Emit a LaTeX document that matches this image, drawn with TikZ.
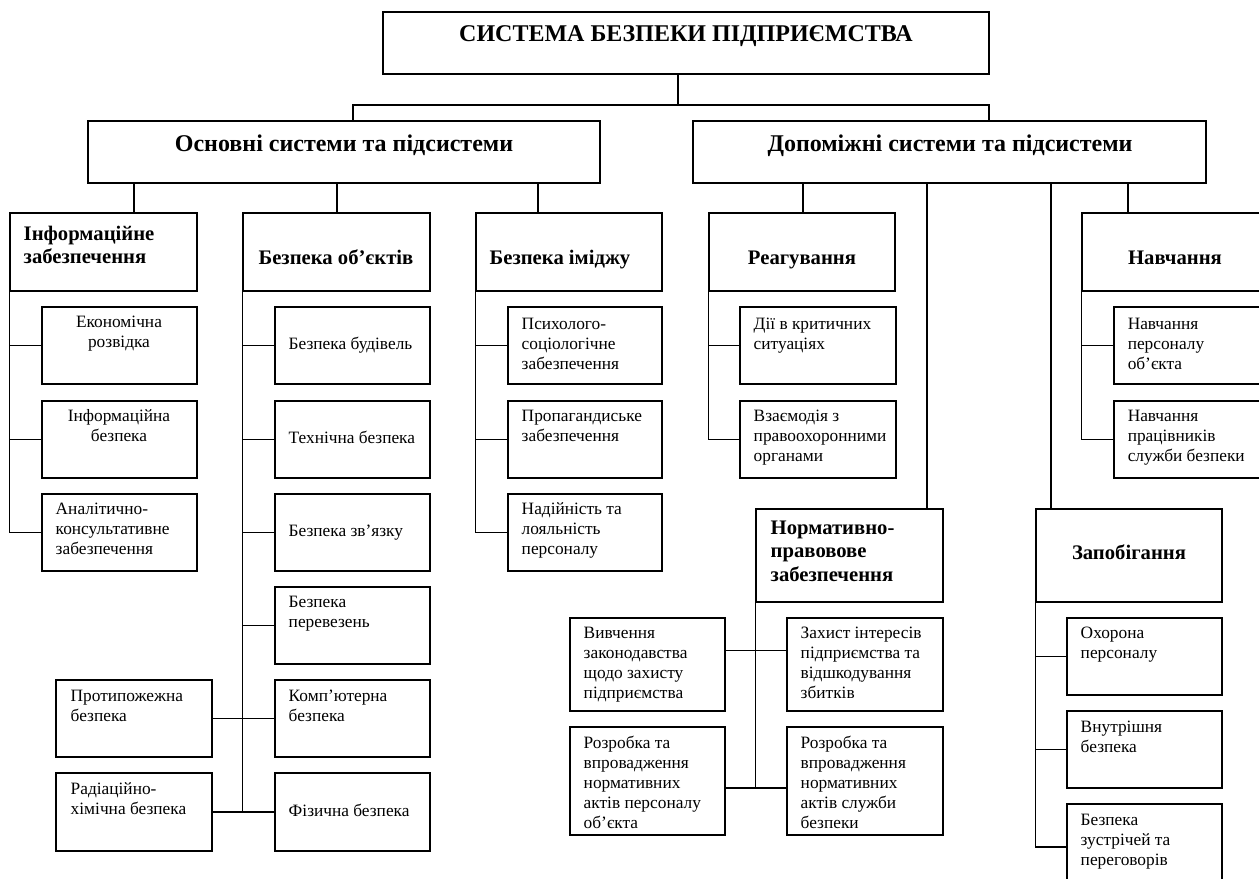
\documentclass[tikz,border=0pt]{standalone}
\usepackage{fontspec}
\setmainfont{Liberation Serif}
\usetikzlibrary{fit,calc}

\tikzset{
  box/.style={draw, inner sep=0pt},
  txt/.style={inner sep=0pt, anchor=north west, align=left, execute at begin node=\strut, font=\fontsize{13}{15}\selectfont},
  ctxt/.style={txt, anchor=north, align=center},
  head/.style={inner sep=0pt, anchor=base, align=left, font=\bfseries\fontsize{15.5}{17.25}\selectfont},
  bighead/.style={inner sep=0pt, anchor=base, font=\bfseries\fontsize{18}{21}\selectfont},
}

\begin{document}
\begin{tikzpicture}[x=0.75pt,y=0.75pt,yscale=-1,line width=1.1pt]
\useasboundingbox (0,0) rectangle (1259,878);
\clip (0,0) rectangle (1259,878);

%Shape: Rectangle
\node[box, fit={(383,12) (989,74)}] (top) {};
% Text Node
\node[bighead] (top-t) at (686,41) {СИСТЕМА БЕЗПЕКИ ПІДПРИЄМСТВА};

%Shape: Rectangle
\node[box, fit={(88,121) (600,183)}] (osn) {};
\node[box, fit={(693,121) (1206,183)}] (dop) {};
% Text Node
\node[bighead] (osn-t) at (344,151) {Основні системи та підсистеми};
\node[bighead] (dop-t) at (950,151) {Допоміжні системи та підсистеми};

%Shape: Rectangle
\node[box, fit={(10,213) (197,291)}] (info) {};
\node[box, fit={(243,213) (430,291)}] (obj) {};
\node[box, fit={(476,213) (662,291)}] (imi) {};
\node[box, fit={(709,213) (895,291)}] (reag) {};
\node[box, fit={(1082,213) (1265,291)}] (nav) {};
% Text Node
\node[head, anchor=north west, execute at begin node=\strut] (info-t) at (23,225) {Інформаційне\\забезпечення};
\node[head] (obj-t) at (336,264) {Безпека об’єктів};
\node[head] (imi-t) at (560,264) {Безпека іміджу};
\node[head] (reag-t) at (802,264) {Реагування};
\node[head] (nav-t) at (1175,264) {Навчання};

%Shape: Rectangle
\node[box, fit={(42,307) (197,384)}] (econ) {};
\node[box, fit={(42,401) (197,478)}] (ibez) {};
\node[box, fit={(42,494) (197,571)}] (anal) {};
% Text Node
\node[ctxt] (econ-t) at (119,315) {Економічна\\розвідка};
\node[ctxt] (ibez-t) at (119,409) {Інформаційна\\безпека};
\node[txt] (anal-t) at (55,502) {Аналітично-\\консультативне\\забезпечення};

%Shape: Rectangle
\node[box, fit={(275,307) (430,384)}] (bud) {};
\node[box, fit={(275,401) (430,478)}] (tech) {};
\node[box, fit={(275,494) (430,571)}] (zv) {};
\node[box, fit={(275,587) (430,664)}] (perev) {};
\node[box, fit={(275,680) (430,757)}] (comp) {};
\node[box, fit={(275,773) (430,851)}] (fiz) {};
\node[box, fit={(56,680) (212,757)}] (fire) {};
\node[box, fit={(56,773) (212,851)}] (rad) {};
% Text Node
\node[txt] (bud-t) at (288,335) {Безпека будівель};
\node[txt] (tech-t) at (288,429) {Технічна безпека};
\node[txt] (zv-t) at (288,522) {Безпека зв’язку};
\node[txt] (perev-t) at (288,595) {Безпека\\перевезень};
\node[txt] (comp-t) at (288,689) {Комп’ютерна\\безпека};
\node[txt] (fiz-t) at (288,802) {Фізична безпека};
\node[txt] (fire-t) at (70,689) {Протипожежна\\безпека};
\node[txt] (rad-t) at (70,782) {Радіаційно-\\хімічна безпека};

%Shape: Rectangle
\node[box, fit={(508,307) (662,384)}] (psy) {};
\node[box, fit={(508,401) (662,478)}] (prop) {};
\node[box, fit={(508,494) (662,571)}] (nad) {};
% Text Node
\node[txt] (psy-t) at (521,317) {Психолого-\\соціологічне\\забезпечення};
\node[txt] (prop-t) at (521,409) {Пропагандиське\\забезпечення};
\node[txt] (nad-t) at (521,502) {Надійність та\\лояльність\\персоналу};

%Shape: Rectangle
\node[box, fit={(740,307) (896,384)}] (dii) {};
\node[box, fit={(740,401) (896,478)}] (vza) {};
\node[box, fit={(1114,307) (1265,384)}] (navp) {};
\node[box, fit={(1114,401) (1265,478)}] (navs) {};
% Text Node
\node[txt] (dii-t) at (753,317) {Дії в критичних\\ситуаціях};
\node[txt] (vza-t) at (753,409) {Взаємодія з\\правоохоронними\\органами};
\node[txt] (navp-t) at (1127,317) {Навчання\\персоналу\\об’єкта};
\node[txt] (navs-t) at (1127,409) {Навчання\\працівників\\служби безпеки};

%Shape: Rectangle
\node[box, fit={(756,509) (943,602)}] (norm) {};
\node[box, fit={(570,618) (725,711)}] (vyv) {};
\node[box, fit={(787,618) (943,711)}] (zah) {};
\node[box, fit={(570,727) (725,835)}] (roz1) {};
\node[box, fit={(787,727) (943,835)}] (roz2) {};
% Text Node
\node[head, anchor=north west, execute at begin node=\strut, font=\bfseries\fontsize{15.5}{17.6}\selectfont] (norm-t) at (770,520) {Нормативно-\\правовове\\забезпечення};
\node[txt] (vyv-t) at (583,626) {Вивчення\\законодавства\\щодо захисту\\підприємства};
\node[txt] (zah-t) at (800,626) {Захист інтересів\\підприємства та\\відшкодування\\збитків};
\node[txt] (roz1-t) at (583,735) {Розробка та\\впровадження\\нормативних\\актів персоналу\\об’єкта};
\node[txt] (roz2-t) at (800,735) {Розробка та\\впровадження\\нормативних\\актів служби\\безпеки};

%Shape: Rectangle
\node[box, fit={(1036,509) (1222,602)}] (zap) {};
\node[box, fit={(1067,618) (1222,695)}] (ohor) {};
\node[box, fit={(1067,711) (1222,788)}] (vnut) {};
\node[box, fit={(1067,804) (1222,890)}] (zustr) {};
% Text Node
\node[head] (zap-t) at (1129,559) {Запобігання};
\node[txt] (ohor-t) at (1080,626) {Охорона\\персоналу};
\node[txt] (vnut-t) at (1080,720) {Внутрішня\\безпека};
\node[txt] (zustr-t) at (1080,813) {Безпека\\зустрічей та\\переговорів};

%Straight Lines
\coordinate (bus) at (678,105);
\coordinate (busl) at (353,105);
\coordinate (busr) at (989,105);
\draw (top.south -| bus) -- (bus);
\draw (osn.north -| busl) -- (busl) -- (busr) -- (dop.north -| busr);
\foreach \x/\n [count=\i] in {134/info,337/obj,538/imi}{
  \coordinate (oj\i) at (\x,0);
  \draw (osn.south -| oj\i) -- (\n.north -| oj\i);
}
\foreach \x/\n [count=\i] in {803/reag,927/norm,1051/zap,1128/nav}{
  \coordinate (dj\i) at (\x,0);
  \draw (dop.south -| dj\i) -- (\n.north -| dj\i);
}

%Straight Lines
\foreach \c in {econ,ibez,anal} \draw (info.south west) |- (\c.west);
\foreach \c in {bud,tech,zv,perev,comp,fiz} \draw (obj.south west) |- (\c.west);
\draw (fire.east) -- (comp.west);
\draw (rad.east) -- (fiz.west);
\foreach \c in {psy,prop,nad} \draw (imi.south west) |- (\c.west);
\foreach \c in {dii,vza} \draw (reag.south west) |- (\c.west);
\foreach \c in {navp,navs} \draw (nav.south west) |- (\c.west);
\foreach \c in {ohor,vnut,zustr} \draw (zap.south west) |- (\c.west);

%Straight Lines
\coordinate (nj1) at ($(vyv.east)+(0,-14)$);
\coordinate (nj2) at ($(roz1.east)+(0,7)$);
\draw (vyv.east |- nj1) -- (zah.west |- nj1);
\draw (roz1.east |- nj2) -- (roz2.west |- nj2);
\draw (norm.south west) -- (norm.south west |- nj2);

\end{tikzpicture}
\end{document}
